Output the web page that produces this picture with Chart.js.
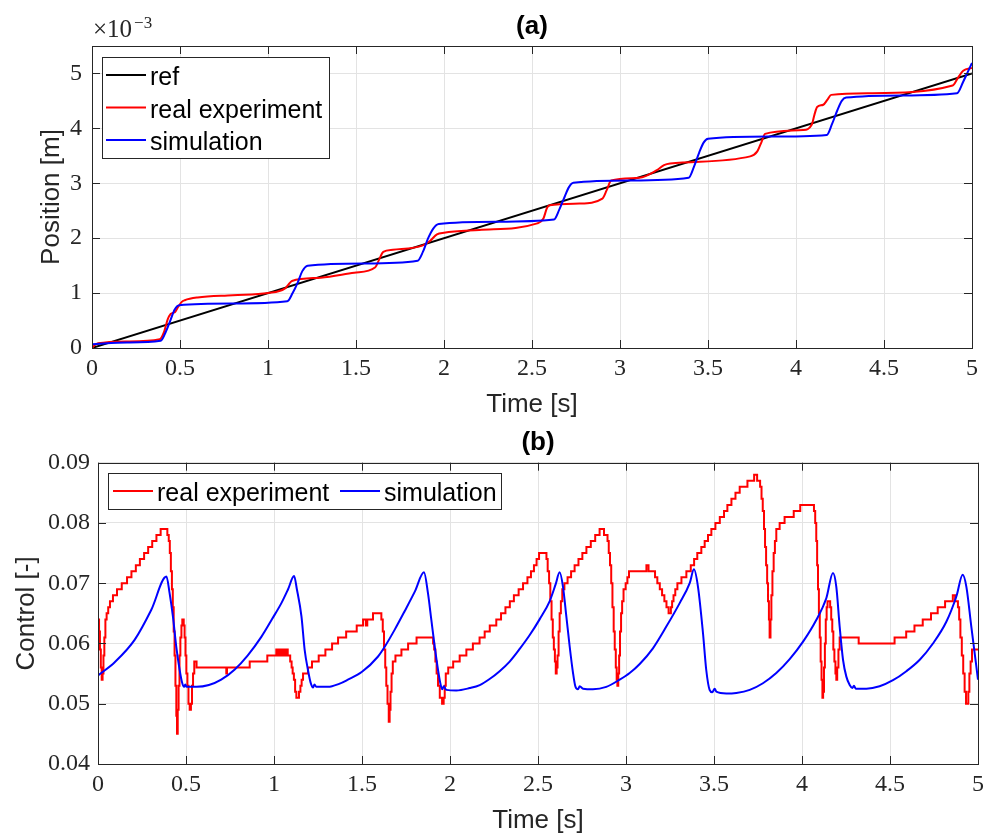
<!DOCTYPE html>
<html>
<head>
<meta charset="utf-8">
<title>Position and control</title>
<script src="https://cdn.jsdelivr.net/npm/chart.js@4.4.1/dist/chart.umd.min.js"></script>
<style>
  html, body { margin: 0; padding: 0; background: #fff; }
  #page { position: relative; width: 990px; height: 834px; overflow: hidden; background: #fff; }
  #chartA { position: absolute; left: 0; top: 0; }
  #chartB { position: absolute; left: 0; top: 417px; }
</style>
</head>
<body>
<div id="page">
  <canvas id="chartA" width="990" height="432"></canvas>
  <canvas id="chartB" width="990" height="417"></canvas>
</div>
<script>
// ---- (a) position, values in units of 1e-3 m ----
const refTime = [0, 5];
const refPos = [0, 5];

const realTimeA = [0, 0.015, 0.035, 0.2, 0.385, 0.41, 0.43, 0.447, 0.46, 0.473,
  0.49, 0.51, 0.527, 0.6, 0.8, 1.0, 1.095, 1.115, 1.136, 1.3,
  1.49, 1.61, 1.63, 1.655, 1.71, 1.88, 1.92, 1.96, 2.0, 2.2,
  2.53, 2.565, 2.585, 2.6, 2.77, 2.9, 2.925, 2.95, 3.11, 3.21,
  3.25, 3.285, 3.74, 3.78, 3.805, 3.824, 4.04, 4.09, 4.105, 4.12,
  4.155, 4.18, 4.2, 4.42, 4.89, 4.92, 4.95, 5.0];
const realPos = [0, 0.05, 0.085, 0.12, 0.16, 0.30, 0.52, 0.62, 0.64, 0.66,
  0.75, 0.84, 0.87, 0.92, 0.96, 1.0, 1.08, 1.15, 1.22, 1.28,
  1.37, 1.47, 1.60, 1.75, 1.79, 1.87, 1.95, 2.07, 2.10, 2.15,
  2.27, 2.36, 2.55, 2.60, 2.63, 2.72, 2.88, 3.05, 3.10, 3.24,
  3.33, 3.36, 3.49, 3.58, 3.76, 3.90, 3.97, 4.07, 4.25, 4.39,
  4.43, 4.53, 4.61, 4.64, 4.78, 4.92, 5.05, 5.10];

const simTimeA = [0, 0.2, 0.39, 0.42, 0.445, 0.47, 0.495, 0.8, 1.11, 1.14,
  1.17, 1.195, 1.225, 1.55, 1.85, 1.88, 1.91, 1.94, 1.97, 2.3,
  2.625, 2.655, 2.685, 2.71, 2.735, 3.06, 3.39, 3.42, 3.45, 3.475,
  3.5, 3.85, 4.175, 4.205, 4.235, 4.26, 4.285, 4.6, 4.915, 4.95,
  4.975, 5.0];
const simPos = [0.07, 0.10, 0.13, 0.30, 0.50, 0.70, 0.78, 0.81, 0.85, 1.00,
  1.20, 1.40, 1.50, 1.54, 1.59, 1.75, 2.00, 2.18, 2.26, 2.30,
  2.34, 2.52, 2.75, 2.93, 3.01, 3.05, 3.10, 3.30, 3.56, 3.74,
  3.81, 3.85, 3.88, 4.08, 4.33, 4.50, 4.56, 4.60, 4.64, 4.85,
  5.02, 5.19];

// ---- (b) control ----
const realTimeB = [0.000, 0.006, 0.011, 0.016, 0.021, 0.026, 0.031, 0.036, 0.042, 0.049,
  0.058, 0.068, 0.085, 0.108, 0.135, 0.165, 0.190, 0.215, 0.238, 0.262,
  0.285, 0.308, 0.332, 0.356, 0.394, 0.402, 0.408, 0.414, 0.420, 0.425,
  0.430, 0.435, 0.440, 0.445, 0.449, 0.453, 0.458, 0.463, 0.468, 0.474,
  0.479, 0.487, 0.492, 0.497, 0.502, 0.508, 0.514, 0.521, 0.528, 0.534,
  0.540, 0.547, 0.560, 0.729, 0.733, 0.862, 0.962, 1.013, 1.019, 1.025,
  1.031, 1.037, 1.043, 1.049, 1.055, 1.061, 1.067, 1.073, 1.078, 1.092,
  1.100, 1.106, 1.113, 1.120, 1.127, 1.142, 1.150, 1.157, 1.165, 1.193,
  1.216, 1.254, 1.292, 1.330, 1.364, 1.410, 1.470, 1.506, 1.522, 1.530,
  1.5625, 1.610, 1.618, 1.625, 1.632, 1.638, 1.645, 1.652, 1.657, 1.662,
  1.668, 1.675, 1.690, 1.724, 1.762, 1.810, 1.904, 1.910, 1.917, 1.924,
  1.932, 1.942, 1.955, 1.964, 1.970, 1.976, 1.990, 2.018, 2.055, 2.093,
  2.130, 2.168, 2.197, 2.226, 2.263, 2.290, 2.315, 2.340, 2.363, 2.390,
  2.415, 2.440, 2.460, 2.477, 2.492, 2.506, 2.548, 2.555, 2.563, 2.570,
  2.577, 2.584, 2.590, 2.596, 2.601, 2.606, 2.611, 2.617, 2.623, 2.630,
  2.638, 2.650, 2.668, 2.688, 2.708, 2.730, 2.752, 2.775, 2.800, 2.825,
  2.850, 2.875, 2.895, 2.902, 2.909, 2.916, 2.923, 2.930, 2.936, 2.942,
  2.947, 2.951, 2.956, 2.961, 2.966, 2.972, 2.978, 2.986, 2.998, 3.008,
  3.017, 3.116, 3.128, 3.165, 3.178, 3.192, 3.205, 3.218, 3.230, 3.242,
  3.255, 3.262, 3.270, 3.280, 3.292, 3.315, 3.343, 3.368, 3.387, 3.405,
  3.428, 3.447, 3.466, 3.485, 3.508, 3.533, 3.557, 3.576, 3.599, 3.622,
  3.646, 3.690, 3.728, 3.745, 3.762, 3.770, 3.777, 3.784, 3.790, 3.796,
  3.802, 3.807, 3.812, 3.816, 3.821, 3.826, 3.832, 3.839, 3.846, 3.854,
  3.873, 3.901, 3.953, 3.990, 4.068, 4.075, 4.081, 4.086, 4.091, 4.096,
  4.101, 4.106, 4.111, 4.116, 4.120, 4.125, 4.130, 4.135, 4.140, 4.145,
  4.160, 4.166, 4.172, 4.178, 4.184, 4.190, 4.195, 4.200, 4.207, 4.214,
  4.322, 4.526, 4.592, 4.639, 4.686, 4.733, 4.771, 4.813, 4.857, 4.870,
  4.886, 4.893, 4.900, 4.908, 4.916, 4.924, 4.932, 4.945, 4.951, 4.958,
  4.966, 5.000];
const realControl = [0.064, 0.062, 0.059, 0.056, 0.054, 0.055, 0.058, 0.061, 0.064, 0.065,
  0.066, 0.067, 0.068, 0.069, 0.070, 0.071, 0.072, 0.073, 0.074, 0.075,
  0.076, 0.077, 0.078, 0.079, 0.078, 0.077, 0.075, 0.072, 0.069, 0.066,
  0.062, 0.058, 0.053, 0.048, 0.045, 0.049, 0.053, 0.058, 0.061, 0.063,
  0.064, 0.063, 0.061, 0.058, 0.055, 0.053, 0.050, 0.049, 0.050, 0.053,
  0.055, 0.057, 0.056, 0.055, 0.056, 0.057, 0.058, 0.059, 0.058, 0.059,
  0.058, 0.059, 0.058, 0.059, 0.058, 0.059, 0.058, 0.059, 0.058, 0.057,
  0.056, 0.055, 0.054, 0.052, 0.051, 0.052, 0.053, 0.054, 0.055, 0.056,
  0.057, 0.058, 0.059, 0.060, 0.061, 0.062, 0.063, 0.064, 0.063, 0.064,
  0.065, 0.064, 0.062, 0.059, 0.056, 0.053, 0.050, 0.047, 0.049, 0.052,
  0.055, 0.057, 0.058, 0.059, 0.060, 0.061, 0.060, 0.059, 0.057, 0.055,
  0.053, 0.051, 0.050, 0.051, 0.053, 0.055, 0.056, 0.057, 0.058, 0.059,
  0.060, 0.061, 0.062, 0.063, 0.064, 0.065, 0.066, 0.067, 0.068, 0.069,
  0.070, 0.071, 0.072, 0.073, 0.074, 0.075, 0.074, 0.072, 0.070, 0.067,
  0.064, 0.061, 0.059, 0.057, 0.055, 0.056, 0.058, 0.062, 0.065, 0.067,
  0.069, 0.070, 0.071, 0.072, 0.073, 0.074, 0.075, 0.076, 0.077, 0.078,
  0.079, 0.078, 0.077, 0.075, 0.073, 0.070, 0.066, 0.062, 0.059, 0.056,
  0.054, 0.053, 0.055, 0.058, 0.062, 0.065, 0.067, 0.069, 0.070, 0.071,
  0.072, 0.073, 0.072, 0.071, 0.070, 0.069, 0.068, 0.067, 0.066, 0.065,
  0.066, 0.067, 0.068, 0.069, 0.070, 0.071, 0.072, 0.073, 0.074, 0.075,
  0.076, 0.077, 0.078, 0.079, 0.080, 0.081, 0.082, 0.083, 0.084, 0.085,
  0.086, 0.087, 0.088, 0.087, 0.086, 0.084, 0.082, 0.079, 0.076, 0.073,
  0.070, 0.067, 0.064, 0.061, 0.064, 0.068, 0.072, 0.075, 0.077, 0.079,
  0.080, 0.081, 0.082, 0.083, 0.082, 0.080, 0.077, 0.073, 0.069, 0.065,
  0.061, 0.057, 0.054, 0.051, 0.052, 0.056, 0.060, 0.064, 0.066, 0.067,
  0.066, 0.064, 0.062, 0.059, 0.057, 0.055, 0.054, 0.056, 0.059, 0.061,
  0.060, 0.061, 0.062, 0.063, 0.064, 0.065, 0.066, 0.067, 0.068, 0.067,
  0.066, 0.064, 0.061, 0.058, 0.055, 0.052, 0.050, 0.052, 0.055, 0.057,
  0.059, 0.059];

const simTimeB = [0, 0.095, 0.208, 0.303, 0.389, 0.407, 0.426, 0.445, 0.464, 0.477,
  0.489, 0.496, 0.503, 0.56, 0.63, 0.70, 0.777, 0.85, 0.928, 0.99,
  1.042, 1.08, 1.114, 1.13, 1.156, 1.174, 1.193, 1.208, 1.222, 1.23,
  1.24, 1.307, 1.37, 1.42, 1.50, 1.59, 1.63, 1.686, 1.743, 1.80, 1.852,
  1.875, 1.894, 1.913, 1.932, 1.945, 1.956, 1.965, 1.979, 2.036, 2.112,
  2.169, 2.225, 2.282, 2.339, 2.396, 2.453, 2.509, 2.566, 2.600, 2.623,
  2.642, 2.661, 2.68, 2.699, 2.712, 2.727, 2.737, 2.756, 2.812, 2.888,
  2.964, 3.021, 3.078, 3.153, 3.229, 3.305, 3.362, 3.386,
  3.409, 3.4375, 3.456, 3.475, 3.49, 3.504, 3.513, 3.57, 3.627, 3.703,
  3.778, 3.854, 3.93, 4.006, 4.081, 4.138, 4.176,
  4.195, 4.214, 4.233, 4.252, 4.271, 4.286, 4.295, 4.305, 4.366, 4.441,
  4.517, 4.593, 4.669, 4.744, 4.82, 4.877, 4.913,
  4.934, 4.962, 5.0];
const simControl = [0.0547, 0.0569, 0.0606, 0.0656, 0.0711, 0.0683, 0.0644, 0.0594, 0.0556, 0.0536,
  0.0528, 0.0532, 0.0528, 0.0528, 0.0531, 0.0540, 0.0557, 0.0580, 0.0611, 0.0641,
  0.0667, 0.0690, 0.0712, 0.0690, 0.0645, 0.0590, 0.0556, 0.0535, 0.0527, 0.0532,
  0.0528, 0.0528, 0.0533, 0.0540, 0.0553, 0.0578, 0.0595, 0.0623, 0.0654, 0.0686, 0.0718,
  0.0683, 0.0639, 0.0595, 0.0556, 0.0534, 0.0524, 0.0529, 0.0523, 0.0522, 0.0526,
  0.0531, 0.0541, 0.0554, 0.0570, 0.0591, 0.0614, 0.0640, 0.0670, 0.0698, 0.0718,
  0.0694, 0.0645, 0.0595, 0.0551, 0.0529, 0.0524, 0.0529, 0.0525, 0.0524, 0.0528,
  0.0540, 0.0551, 0.0566, 0.0592, 0.0628, 0.0667, 0.0700, 0.0723,
  0.0694, 0.0617, 0.0556, 0.0523, 0.0519, 0.0525, 0.0520, 0.0517, 0.0518, 0.0523,
  0.0534, 0.0551, 0.0574, 0.0603, 0.0639, 0.0675, 0.0717,
  0.0694, 0.0628, 0.0573, 0.0545, 0.0531, 0.0526, 0.0530, 0.0525, 0.0525, 0.0529,
  0.0539, 0.0554, 0.0573, 0.0600, 0.0636, 0.0678, 0.0714,
  0.0694, 0.0628, 0.0540];

const xTicks = { min: 0, max: 5, step: 0.5 };

const sans = '"Liberation Sans", Arial, Helvetica, sans-serif';
const serif = '"Liberation Serif", "Times New Roman", serif';
const ink = '#262626';

function toPoints(xs, ys) {
  return xs.map((x, i) => ({ x: x, y: ys[i] }));
}

// MATLAB style box, inner tick marks, legend box and exponent label
const matlabBox = {
  id: 'matlabBox',
  afterDatasetsDraw(chart, args, opts) {
    const ctx = chart.ctx;
    const a = chart.chartArea;
    const xs = chart.scales.x, ys = chart.scales.y;
    ctx.save();
    ctx.strokeStyle = ink;
    ctx.lineWidth = 1;
    ctx.beginPath();
    xs.ticks.forEach(t => {
      const p = Math.round(xs.getPixelForValue(t.value)) + 0.5;
      ctx.moveTo(p, a.bottom); ctx.lineTo(p, a.bottom - 8);
      ctx.moveTo(p, a.top); ctx.lineTo(p, a.top + 8);
    });
    ys.ticks.forEach(t => {
      const p = Math.round(ys.getPixelForValue(t.value)) + 0.5;
      ctx.moveTo(a.left, p); ctx.lineTo(a.left + 8, p);
      ctx.moveTo(a.right, p); ctx.lineTo(a.right - 8, p);
    });
    ctx.stroke();
    ctx.strokeRect(Math.round(a.left) + 0.5, Math.round(a.top) + 0.5,
      Math.round(a.right - a.left), Math.round(a.bottom - a.top));

    // legend
    const lg = opts.legend;
    ctx.fillStyle = '#fff';
    ctx.fillRect(lg.x, lg.y, lg.w, lg.h);
    ctx.strokeStyle = ink;
    ctx.strokeRect(lg.x + 0.5, lg.y + 0.5, lg.w, lg.h);
    ctx.font = '25px ' + sans;
    ctx.textBaseline = 'alphabetic';
    lg.items.forEach(it => {
      const ds = chart.data.datasets[it.index];
      ctx.strokeStyle = ds.borderColor;
      ctx.lineWidth = 2;
      ctx.beginPath();
      ctx.moveTo(it.x, it.y); ctx.lineTo(it.x + 40, it.y);
      ctx.stroke();
      ctx.fillStyle = '#000';
      ctx.fillText(ds.label, it.x + 44, it.y + 10);
    });

    // x10^-3 label
    if (opts.exponent) {
      ctx.fillStyle = ink;
      ctx.font = '25px ' + serif;
      ctx.fillText('\u00d710', 93, 37);
      const w = ctx.measureText('\u00d710').width;
      ctx.font = '17px ' + serif;
      ctx.fillText('\u22123', 93 + w + 2, 28);
    }
    ctx.restore();
  }
};

function xScale(axisHeight, titlePad) {
  return {
    type: 'linear',
    min: xTicks.min,
    max: xTicks.max,
    ticks: {
      stepSize: xTicks.step, font: { family: serif, size: 24 }, color: ink, padding: 6,
      maxRotation: 0, autoSkip: false,
      callback: v => String(Math.round(v * 10) / 10)
    },
    grid: { color: '#e3e3e3', lineWidth: 1, drawTicks: false },
    border: { display: false },
    title: { display: true, text: 'Time [s]', font: { family: sans, size: 26 }, color: ink, padding: { top: 0, bottom: titlePad } },
    afterFit: s => { s.height = axisHeight; s.paddingLeft = 0; s.paddingRight = 0; }
  };
}

function yScale(min, max, step, width, label, titlePad, pad, fmt) {
  return {
    type: 'linear',
    min: min,
    max: max,
    ticks: { stepSize: step, includeBounds: false, font: { family: serif, size: 24 }, color: ink, padding: pad, callback: fmt },
    grid: { color: '#e3e3e3', lineWidth: 1, drawTicks: false },
    border: { display: false },
    title: { display: true, text: label, font: { family: sans, size: 26 }, color: ink, padding: { top: titlePad, bottom: 0 } },
    afterFit: s => { s.width = width; s.paddingTop = 0; s.paddingBottom = 0; }
  };
}

function titleOpts(text, top, bottom) {
  return {
    display: true, text: text, fullSize: false, color: '#000',
    font: { family: sans, size: 26, weight: 'bold' },
    padding: { top: top, bottom: bottom }
  };
}

const lineBase = { pointRadius: 0, borderWidth: 2, fill: false };

// chart (a)
new Chart(document.getElementById('chartA'), {
  type: 'line',
  data: {
    datasets: [
      Object.assign({ label: 'ref', data: toPoints(refTime, refPos), borderColor: '#000000', order: 3 }, lineBase),
      Object.assign({ label: 'real experiment', data: toPoints(realTimeA, realPos), borderColor: '#ff0000', order: 2, cubicInterpolationMode: 'monotone' }, lineBase),
      Object.assign({ label: 'simulation', data: toPoints(simTimeA, simPos), borderColor: '#0000ff', order: 1, cubicInterpolationMode: 'monotone' }, lineBase)
    ]
  },
  options: {
    responsive: false,
    animation: false,
    layout: { padding: { left: 0, right: 18, top: 0, bottom: 15 } },
    scales: {
      x: xScale(69, -3.2),
      y: yScale(0, 5.5, 1, 92, 'Position [m]', 36.4, 10, v => String(Math.round(v)))
    },
    plugins: {
      legend: { display: false },
      tooltip: { enabled: false },
      title: titleOpts('(a)', 11.5, 3.3),
      matlabBox: {
        exponent: true,
        legend: {
          x: 102, y: 57, w: 227, h: 101,
          items: [{ index: 0, x: 106, y: 75 }, { index: 1, x: 106, y: 107.5 }, { index: 2, x: 106, y: 140 }]
        }
      }
    }
  },
  plugins: [matlabBox]
});

// chart (b)
new Chart(document.getElementById('chartB'), {
  type: 'line',
  data: {
    datasets: [
      Object.assign({ label: 'real experiment', data: toPoints(realTimeB, realControl), borderColor: '#ff0000', order: 2, stepped: true }, lineBase),
      Object.assign({ label: 'simulation', data: toPoints(simTimeB, simControl), borderColor: '#0000ff', order: 1, cubicInterpolationMode: 'monotone' }, lineBase)
    ]
  },
  options: {
    responsive: false,
    animation: false,
    layout: { padding: { left: 0, right: 12, top: 0, bottom: 0 } },
    scales: {
      x: xScale(70, -2.9),
      y: yScale(0.04, 0.09, 0.01, 98, 'Control [-]', 11.4, 8, v => v.toFixed(2))
    },
    plugins: {
      legend: { display: false },
      tooltip: { enabled: false },
      title: titleOpts('(b)', 10, 4.5),
      matlabBox: {
        exponent: false,
        legend: {
          x: 108, y: 56, w: 393, h: 36,
          items: [{ index: 0, x: 113, y: 74 }, { index: 1, x: 340, y: 74 }]
        }
      }
    }
  },
  plugins: [matlabBox]
});
</script>
</body>
</html>
